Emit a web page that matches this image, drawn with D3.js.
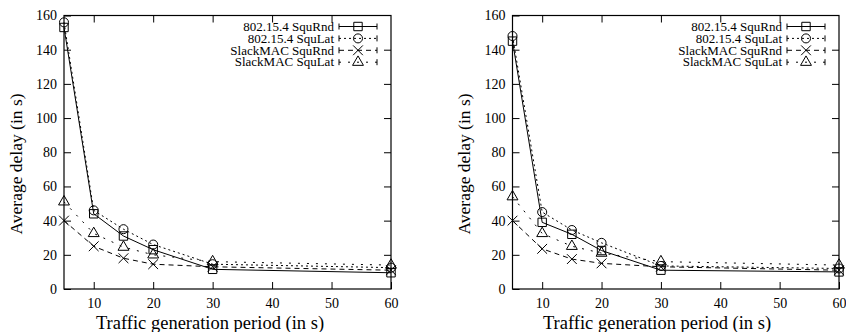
<!DOCTYPE html>
<html>
<head>
<meta charset="utf-8">
<script src="https://cdn.jsdelivr.net/npm/d3@7"></script>
<style>
  body { margin: 0; background: #fff; }
  svg text { font-family: "Liberation Serif", "Times New Roman", Times, serif !important; }
</style>
</head>
<body>
<div id="chart"></div>
<script>
// Traffic generation period (x values)
const periods = [5, 10, 15, 20, 30, 60];
const xTicks = [10, 20, 30, 40, 50, 60];
const yTicks = [0, 20, 40, 60, 80, 100, 120, 140, 160];

const seriesNames = ["802.15.4 SquRnd", "802.15.4 SquLat", "SlackMAC SquRnd", "SlackMAC SquLat"];

// left chart
const leftSquRnd = [153, 44, 31, 23, 11.5, 9.5];
const leftSquLat = [156, 46, 35, 26, 14.5, 12.5];
const leftSlackRnd = [40, 25, 18, 14.5, 13, 11];
const leftSlackLat = [51, 32.5, 24.5, 20, 16, 14];

// right chart
const rightSquRnd = [145, 39, 32, 22.5, 11, 10];
const rightSquLat = [148, 45, 34.5, 27, 13.5, 12];
const rightSlackRnd = [40, 23.5, 17.5, 15, 13, 11];
const rightSlackLat = [54, 32.5, 25, 21, 16, 14];

const W = 846, H = 332;
const svg = d3.select("#chart").append("svg")
    .attr("width", W)
    .attr("height", H);

// style per series: dash pattern + marker
const styles = [
    { dash: null, symbol: d3.symbolSquare2, size: 90 },
    { dash: "2,3", symbol: d3.symbolCircle, size: 64 },
    { dash: "5,4", symbol: d3.symbolTimes, size: 64 },
    { dash: "2,7", symbol: d3.symbolTriangle2, size: 85 }
];

function drawPanel(left, right, values, titleX, xTitleMid) {
    const top = 15.5, bottom = 289;
    const x = d3.scaleLinear().domain([5, 60]).range([left, right]);
    const y = d3.scaleLinear().domain([0, 160]).range([bottom, top]);
    const g = svg.append("g");

    // axes with inward ticks (gnuplot style, mirrored)
    const ax = (sel) => sel.call(s => s.select(".domain").remove())
        .call(s => s.selectAll("line").attr("stroke", "#000"))
        .call(s => s.selectAll("text").attr("fill", "#000").attr("font-size", 14));

    g.append("g")
        .attr("transform", `translate(${left},0)`)
        .call(d3.axisLeft(y).tickValues(yTicks).tickSize(-7).tickPadding(7))
        .call(ax);

    g.append("g")
        .attr("transform", `translate(${right},0)`)
        .call(d3.axisRight(y).tickValues(yTicks.slice(1, -1)).tickSize(-7).tickFormat(""))
        .call(ax);

    g.append("g")
        .attr("transform", `translate(0,${bottom})`)
        .call(d3.axisBottom(x).tickValues(xTicks).tickSize(-7).tickPadding(9))
        .call(ax);

    g.append("g")
        .attr("transform", `translate(0,${top})`)
        .call(d3.axisTop(x).tickValues(xTicks.slice(0, -1)).tickSize(-7).tickFormat(""))
        .call(ax);

    // frame
    g.append("rect")
        .attr("x", left).attr("y", top)
        .attr("width", right - left).attr("height", bottom - top)
        .attr("fill", "none").attr("stroke", "#000").attr("stroke-width", 1.2);

    const line = d3.line()
        .x((d, i) => x(periods[i]))
        .y(d => y(d));

    values.forEach((vals, k) => {
        const st = styles[k];
        g.append("path")
            .datum(vals)
            .attr("d", line)
            .attr("fill", "none")
            .attr("stroke", "#000")
            .attr("stroke-width", 1)
            .attr("stroke-dasharray", st.dash);

        g.selectAll(null)
            .data(vals)
            .join("path")
            .attr("transform", (d, i) => `translate(${x(periods[i])},${y(d)})`)
            .attr("d", d3.symbol(st.symbol, st.size))
            .attr("fill", "none")
            .attr("stroke", "#000")
            .attr("stroke-width", 1);
    });

    // legend
    const lg = g.append("g");
    seriesNames.forEach((name, k) => {
        const st = styles[k];
        const yy = 26.5 + k * 11.9;
        lg.append("text")
            .attr("x", right - 57)
            .attr("y", yy)
            .attr("dy", "0.33em")
            .attr("text-anchor", "end")
            .attr("font-size", 13)
            .text(name);
        const x0 = right - 52, x1 = right - 14;
        lg.append("line")
            .attr("x1", x0).attr("x2", x1)
            .attr("y1", yy).attr("y2", yy)
            .attr("stroke", "#000")
            .attr("stroke-dasharray", st.dash);
        [x0, x1].forEach(xc => lg.append("line")
            .attr("x1", xc).attr("x2", xc)
            .attr("y1", yy - 3).attr("y2", yy + 3)
            .attr("stroke", "#000"));
        lg.append("path")
            .attr("transform", `translate(${(x0 + x1) / 2},${yy})`)
            .attr("d", d3.symbol(st.symbol, st.size))
            .attr("fill", "none")
            .attr("stroke", "#000");
    });

    // axis titles
    g.append("text")
        .attr("x", xTitleMid)
        .attr("y", 329)
        .attr("text-anchor", "middle")
        .attr("font-size", 18.5)
        .text("Traffic generation period (in s)");

    g.append("text")
        .attr("transform", `translate(${titleX},164) rotate(-90)`)
        .attr("text-anchor", "middle")
        .attr("font-size", 17.5)
        .text("Average delay (in s)");
}

drawPanel(64, 391, [leftSquRnd, leftSquLat, leftSlackRnd, leftSlackLat], 22, 210);
drawPanel(512.5, 839, [rightSquRnd, rightSquLat, rightSlackRnd, rightSlackLat], 470, 657);
</script>
</body>
</html>
